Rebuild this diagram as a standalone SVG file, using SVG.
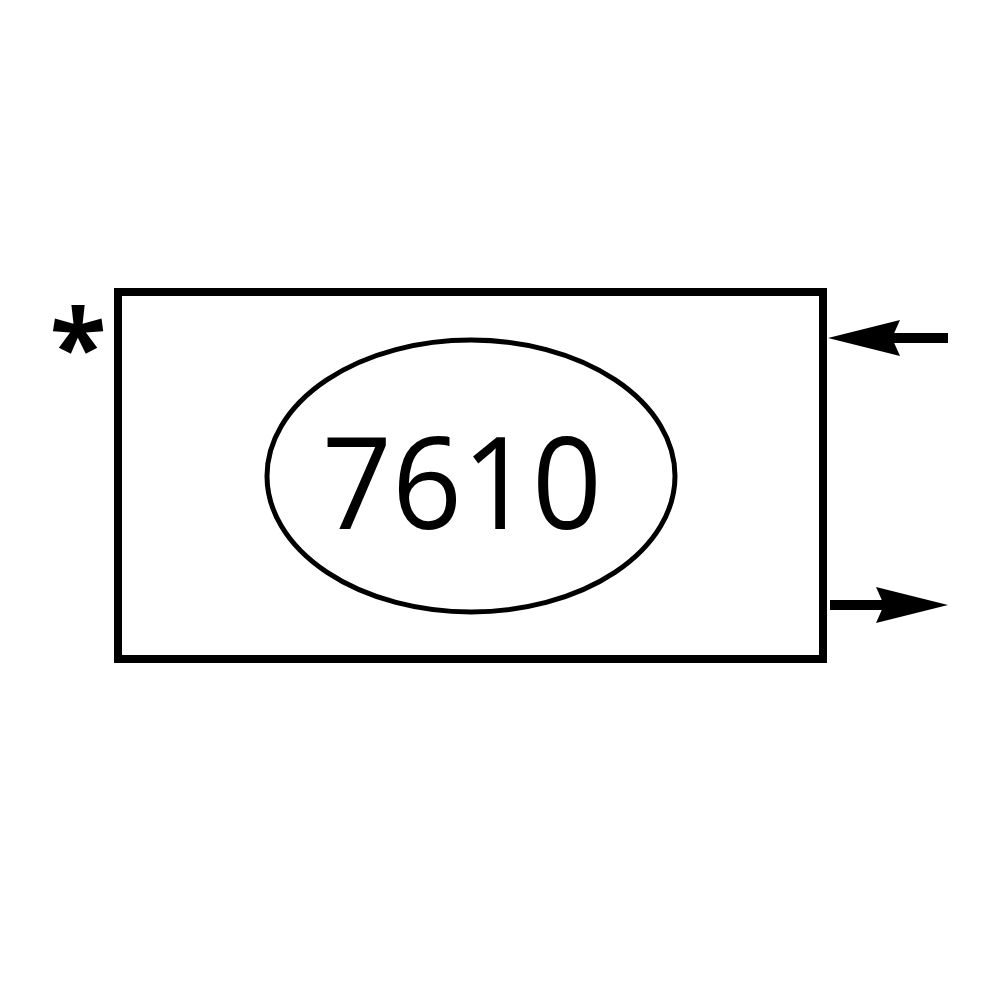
<svg xmlns="http://www.w3.org/2000/svg" width="1000" height="1000" viewBox="0 0 1000 1000">
<defs>
<style>
.box{fill:#fff;stroke:#000;stroke-width:8}
.oval{fill:none;stroke:#000;stroke-width:5}
.lbl{font-family:"Open Sans","Liberation Sans",sans-serif;fill:#000}
.conn{stroke:#000;stroke-width:10;fill:none}
</style>
<marker id="ah" viewBox="0 0 72 36" refX="48" refY="18" markerWidth="72" markerHeight="36" markerUnits="userSpaceOnUse" orient="auto">
<path d="M0,0 L72,18 L0,36 L8,18 Z" fill="#000"/>
</marker>
</defs>
<rect width="1000" height="1000" fill="#fff"/>
<g id="node-7610">
<rect class="box" x="118" y="292" width="705" height="367"/>
<ellipse class="oval" cx="471" cy="476" rx="204" ry="136"/>
<text class="lbl" x="462" y="529" font-size="128" text-anchor="middle" textLength="280" lengthAdjust="spacingAndGlyphs">7610</text>
</g>
<g id="mark">
<text class="lbl" x="78" y="384" font-size="104" font-weight="bold" text-anchor="middle">*</text>
</g>
<g id="connectors">
<path class="conn" d="M948,338 L852,338" marker-end="url(#ah)"/>
<path class="conn" d="M830,605 L924,605" marker-end="url(#ah)"/>
</g>
</svg>
